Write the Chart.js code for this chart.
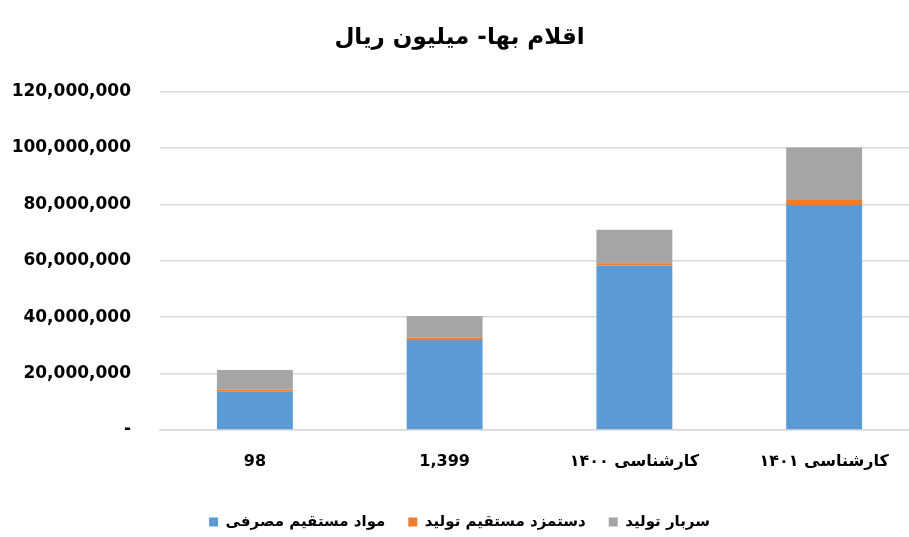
<!DOCTYPE html>
<html>
<head>
<meta charset="utf-8">
<script src="https://cdn.jsdelivr.net/npm/chart.js@4"></script>
<style>
  html, body { margin: 0; padding: 0; background: #fff; overflow: hidden; }
  #wrap { width: 909px; height: 537px; overflow: hidden; }
  #box { width: 930px; height: 537px; }
</style>
</head>
<body>
<div id="wrap"><div id="box"><canvas id="grafico"></canvas></div></div>
<script>
const categorie = ["98", "1,399", "کارشناسی ۱۴۰۰", "کارشناسی ۱۴۰۱"];
const mavad = [13600000, 31900000, 58300000, 79800000];
const dastmozd = [800000, 800000, 800000, 1800000];
const sarbar = [6900000, 7700000, 11900000, 18600000];
const tickY = [0, 20000000, 40000000, 60000000, 80000000, 100000000, 120000000];

const font = "'DejaVu Sans', sans-serif";

new Chart(document.getElementById("grafico"), {
  type: "bar",
  data: {
    labels: categorie,
    datasets: [
      { label: "مواد مستقیم مصرفی", data: mavad, backgroundColor: "#5b9bd5" },
      { label: "دستمزد مستقیم تولید", data: dastmozd, backgroundColor: "#ed7d31" },
      { label: "سربار تولید", data: sarbar, backgroundColor: "#a5a5a5" }
    ]
  },
  options: {
    responsive: true,
    maintainAspectRatio: false,
    animation: false,
    datasets: { bar: { categoryPercentage: 1, barPercentage: 0.4 } },
    layout: { padding: { top: 0, right: 11, bottom: -2.5, left: 0 } },
    plugins: {
      tooltip: { enabled: false },
      title: {
        display: true,
        text: "اقلام بها- میلیون ریال",
        color: "#000",
        font: { family: font, size: 23, weight: "bold", lineHeight: 1.2 },
        padding: { top: 24, bottom: 40 }
      },
      legend: {
        position: "bottom",
        labels: {
          color: "#000",
          boxWidth: 9,
          boxHeight: 9,
          padding: 23,
          font: { family: font, size: 15, weight: "bold" }
        }
      }
    },
    scales: {
      x: {
        stacked: true,
        grid: { display: false, drawTicks: false },
        border: { color: "#d9d9d9", width: 1.5 },
        ticks: { color: "#000", padding: 22, maxRotation: 0, font: { family: font, size: 16, weight: "bold" } },
        afterFit: (s) => { s.height = 61.5; }
      },
      y: {
        stacked: true,
        min: 0,
        max: 120000000,
        afterBuildTicks: (s) => { s.ticks = tickY.map(v => ({ value: v })); },
        grid: { color: "#d9d9d9", lineWidth: 1.5, drawTicks: false },
        border: { display: false },
        ticks: {
          color: "#000",
          padding: 29,
          font: { family: font, size: 17, weight: "bold" },
          callback: (v) => v === 0 ? "-" : v.toLocaleString("en-US")
        },
        afterFit: (s) => { s.width = 160; }
      }
    }
  }
});
</script>
</body>
</html>
